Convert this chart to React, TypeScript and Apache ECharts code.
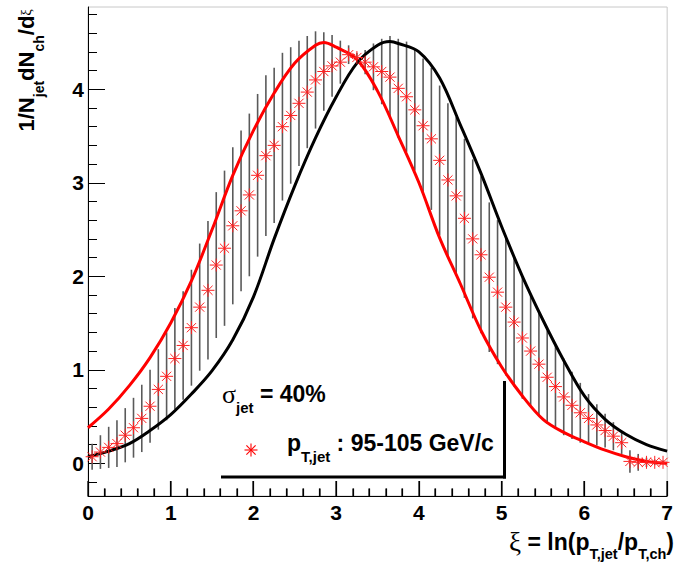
import React, { useEffect, useRef } from "react";
import * as echarts from "echarts";

// ---- axis ticks ----
const xTickValues = [0, 1, 2, 3, 4, 5, 6, 7];
const xMinorTicks = [0.2, 0.4, 0.6, 0.8, 1.2, 1.4, 1.6, 1.8, 2.2, 2.4, 2.6, 2.8, 3.2, 3.4, 3.6, 3.8, 4.2, 4.4, 4.6, 4.8, 5.2, 5.4, 5.6, 5.8, 6.2, 6.4, 6.6, 6.8];
const yMajorTicks = [0, 1, 2, 3, 4];
const yMinorTicks = [-0.2, 0.2, 0.4, 0.6, 0.8, 1.2, 1.4, 1.6, 1.8, 2.2, 2.4, 2.6, 2.8, 3.2, 3.4, 3.6, 3.8, 4.2, 4.4, 4.6, 4.8];
const Y_MIN = -0.35;
const Y_MAX = 4.88;

// ---- red curve ----
const redXi = [0, 0.25, 0.5, 0.75, 1, 1.25, 1.5, 1.75, 2, 2.25, 2.5, 2.75, 2.85, 3, 3.25, 3.5, 3.75, 4, 4.25, 4.5, 4.75, 5, 5.25, 5.5, 5.75, 6, 6.25, 6.5, 6.75, 7];
const redVal = [0.38, 0.58, 0.83, 1.13, 1.5, 1.95, 2.5, 3.08, 3.56, 3.96, 4.28, 4.47, 4.5, 4.45, 4.32, 3.98, 3.5, 3.0, 2.41, 1.92, 1.42, 1.03, 0.72, 0.47, 0.33, 0.23, 0.14, 0.07, 0.02, 0.0];

// ---- black curve ----
const blackXi = [0, 0.25, 0.5, 0.75, 1, 1.25, 1.5, 1.75, 2, 2.25, 2.5, 2.75, 3, 3.25, 3.5, 3.65, 3.75, 4, 4.25, 4.5, 4.75, 5, 5.25, 5.5, 5.75, 6, 6.25, 6.5, 6.75, 7];
const blackVal = [0.07, 0.13, 0.21, 0.35, 0.52, 0.74, 0.99, 1.32, 1.78, 2.4, 2.97, 3.48, 3.92, 4.28, 4.47, 4.51, 4.49, 4.4, 4.12, 3.62, 3.1, 2.53, 2.0, 1.53, 1.1, 0.72, 0.47, 0.31, 0.2, 0.13];

// ---- data points (pT,jet 95-105 GeV/c) ----
const pointXi = [0.05, 0.15, 0.25, 0.35, 0.45, 0.55, 0.65, 0.75, 0.85, 0.95, 1.05, 1.15, 1.25, 1.35, 1.45, 1.55, 1.65, 1.75, 1.85, 1.95, 2.05, 2.15, 2.25, 2.35, 2.45, 2.55, 2.65, 2.75, 2.85, 2.95, 3.05, 3.15, 3.25, 3.35, 3.45, 3.55, 3.65, 3.75, 3.85, 3.95, 4.05, 4.15, 4.25, 4.35, 4.45, 4.55, 4.65, 4.75, 4.85, 4.95, 5.05, 5.15, 5.25, 5.35, 5.45, 5.55, 5.65, 5.75, 5.85, 5.95, 6.05, 6.15, 6.25, 6.35, 6.45, 6.55, 6.65, 6.75, 6.85, 6.95];
const pointVal = [0.07, 0.12, 0.17, 0.21, 0.3, 0.38, 0.48, 0.61, 0.79, 0.93, 1.12, 1.26, 1.45, 1.67, 1.85, 2.12, 2.3, 2.54, 2.7, 2.87, 3.08, 3.29, 3.4, 3.6, 3.72, 3.85, 3.97, 4.1, 4.19, 4.25, 4.29, 4.37, 4.34, 4.29, 4.24, 4.19, 4.13, 4.01, 3.92, 3.78, 3.61, 3.47, 3.24, 3.03, 2.86, 2.62, 2.4, 2.23, 1.99, 1.83, 1.67, 1.51, 1.34, 1.2, 1.06, 0.92, 0.82, 0.71, 0.62, 0.54, 0.48, 0.41, 0.35, 0.29, 0.22, 0.02, 0.01, 0.01, 0.01, 0.01];
const pointErr = [0.14, 0.18, 0.22, 0.25, 0.29, 0.32, 0.36, 0.39, 0.43, 0.47, 0.54, 0.58, 0.62, 0.68, 0.74, 0.78, 0.83, 0.84, 0.86, 0.87, 0.87, 0.86, 0.83, 0.79, 0.73, 0.67, 0.6, 0.52, 0.42, 0.33, 0.23, 0.1, 0.05, 0.13, 0.25, 0.35, 0.44, 0.53, 0.59, 0.65, 0.72, 0.76, 0.8, 0.82, 0.84, 0.85, 0.85, 0.84, 0.8, 0.77, 0.73, 0.69, 0.65, 0.6, 0.55, 0.5, 0.45, 0.41, 0.36, 0.32, 0.26, 0.22, 0.18, 0.15, 0.12, 0.12, 0.09, 0.05, 0.03, 0.02];

const ASTERISK = "path://M0,-10L0,10M-10,0L10,0M-7.07,-7.07L7.07,7.07M-7.07,7.07L7.07,-7.07";

const SANS = "Liberation Sans, Arial, Helvetica, sans-serif";
const SERIF = "Liberation Serif, Times New Roman, serif";

export default function App() {
  const ref = useRef<HTMLDivElement>(null);

  useEffect(() => {
    if (!ref.current) return;
    const chart = echarts.init(ref.current, null, { renderer: "svg" });

    const axisLineStyle = { color: "#000", width: 1 };
    const labelStyle = { fontSize: 21, fontWeight: "bold" as const, color: "#000", fontFamily: SANS };

    const main = (size: number, lh: number) => ({ fontSize: size, fontWeight: "bold", fontFamily: SANS, fill: "#000", lineHeight: lh });
    const sub = (size: number) => ({ fontSize: size, fontWeight: "bold", fontFamily: SANS, fill: "#000", verticalAlign: "bottom" });

    const asteriskLines = (cx: number, cy: number, r: number) => {
      const d = r * 0.7071;
      const segs = [
        [0, -r, 0, r],
        [-r, 0, r, 0],
        [-d, -d, d, d],
        [-d, d, d, -d],
      ];
      return segs.map((s) => ({
        type: "line",
        shape: { x1: cx + s[0], y1: cy + s[1], x2: cx + s[2], y2: cy + s[3] },
        style: { stroke: "#ff0000", lineWidth: 1.1 },
      }));
    };

    // x-axis ticks: one polyline of tick strokes placed through the x scale
    const xTickData = [
      ...xTickValues.map((v) => [v, 15]),
      ...xMinorTicks.map((v) => [v, 7.5]),
    ];

    const option: any = {
      animation: false,
      backgroundColor: "#fff",
      grid: { left: 88, right: 3, top: 7, bottom: 67, show: true, borderColor: "#c8c8c8", borderWidth: 1, backgroundColor: "transparent" },
      xAxis: {
        type: "value",
        min: xTickValues[0],
        max: xTickValues[xTickValues.length - 1],
        interval: 1,
        position: "bottom",
        axisLine: { show: true, onZero: false, lineStyle: axisLineStyle },
        axisTick: { show: true, inside: true, length: 15, lineStyle: { color: "#000", width: 1.2 } },
        minorTick: { show: true, splitNumber: 5, length: 7.5, lineStyle: { color: "#000", width: 1.2 } },
        axisLabel: { ...labelStyle, margin: 6 },
        splitLine: { show: false },
      },
      yAxis: [
        {
          type: "value",
          min: Y_MIN,
          max: Y_MAX,
          position: "left",
          axisLine: { show: true, onZero: false, lineStyle: axisLineStyle },
          axisTick: { show: true, inside: true, length: 17, customValues: yMajorTicks, lineStyle: { color: "#000", width: 1 } },
          axisLabel: { ...labelStyle, margin: 4, customValues: yMajorTicks },
          splitLine: { show: false },
        },
        {
          type: "value",
          min: Y_MIN,
          max: Y_MAX,
          position: "left",
          axisLine: { show: false, onZero: false },
          axisTick: { show: true, inside: true, length: 9, customValues: yMinorTicks, lineStyle: { color: "#000", width: 1 } },
          axisLabel: { show: false },
          splitLine: { show: false },
        },
      ],
      series: [
        {
          type: "custom",
          name: "xticks",
          data: xTickData.map((d) => [d[0], Y_MIN, d[1]]),
          encode: { x: 0, y: 1 },
          clip: false,
          silent: true,
          z: 10,
          renderItem: (params: any, api: any) => {
            const v = api.value(0);
            const len = api.value(2);
            const p = api.coord([v, Y_MIN]);
            return {
              type: "rect",
              shape: { x: Math.round(p[0]) - 0.6, y: p[1] - len, width: 1.2, height: len },
              style: { fill: "#000" },
            };
          },
        },
        {
          type: "custom",
          name: "errors",
          data: pointXi.map((x, i) => [x, pointVal[i], pointErr[i]]),
          encode: { x: 0, y: 1 },
          z: 1,
          renderItem: (params: any, api: any) => {
            const x = api.value(0);
            const y = api.value(1);
            const e = api.value(2);
            const p1 = api.coord([x, y + e]);
            const p2 = api.coord([x, y - e]);
            return {
              type: "line",
              shape: { x1: p1[0], y1: p1[1], x2: p2[0], y2: p2[1] },
              style: { stroke: "#5a5a5a", lineWidth: 1.6 },
            };
          },
        },
        {
          type: "line",
          name: "red",
          data: redXi.map((x, i) => [x, redVal[i]]),
          smooth: 0.35,
          showSymbol: false,
          lineStyle: { color: "#ff0000", width: 3 },
          z: 2,
        },
        {
          type: "line",
          name: "black",
          data: blackXi.map((x, i) => [x, blackVal[i]]),
          smooth: 0.35,
          showSymbol: false,
          lineStyle: { color: "#000", width: 3 },
          z: 2,
        },
        {
          type: "scatter",
          name: "pT,jet : 95-105 GeV/c",
          data: pointXi.map((x, i) => [x, pointVal[i]]),
          symbol: ASTERISK,
          symbolSize: 13,
          itemStyle: { color: "rgba(255,0,0,0)", borderColor: "#ff2020", borderWidth: 1, opacity: 1 },
          z: 3,
        },
      ],
      graphic: [
        { type: "line", shape: { x1: 221, y1: 477, x2: 506, y2: 477 }, style: { stroke: "#000", lineWidth: 3 } },
        { type: "line", shape: { x1: 504.5, y1: 381, x2: 504.5, y2: 478.5 }, style: { stroke: "#000", lineWidth: 3 } },
        {
          type: "text",
          x: 222,
          y: 394,
          style: {
            text: "{g|σ}{s|jet}{b| = 40%}",
            align: "left",
            verticalAlign: "middle",
            rich: {
              g: { fontSize: 26, fontFamily: SERIF, fill: "#000", lineHeight: 42 },
              s: sub(15),
              b: main(23, 42),
            },
          },
        },
        ...asteriskLines(251, 450, 6.5),
        {
          type: "text",
          x: 287,
          y: 443,
          style: {
            text: "{b|p}{s|T,jet}{b| : 95-105 GeV/c}",
            align: "left",
            verticalAlign: "middle",
            rich: { b: main(23, 42), s: sub(15) },
          },
        },
        {
          type: "text",
          x: 674,
          y: 542,
          style: {
            text: "{g|ξ}{b| = ln(p}{s|T,jet}{b|/p}{s|T,ch}{b|)}",
            align: "right",
            verticalAlign: "middle",
            rich: {
              g: { fontSize: 27, fontFamily: SERIF, fill: "#000", lineHeight: 38 },
              b: main(23, 38),
              s: sub(14.5),
            },
          },
        },
        {
          type: "text",
          x: 26,
          y: 9,
          rotation: Math.PI / 2,
          style: {
            text: "{b|1/N}{s|jet}{b|dN}{s|ch}{b|/d}{x|ξ}",
            align: "right",
            verticalAlign: "middle",
            rich: {
              b: main(22, 40),
              s: sub(14),
              x: { fontSize: 15, fontFamily: SERIF, fill: "#000" },
            },
          },
        },
      ],
    };

    chart.setOption(option);
    return () => chart.dispose();
  }, []);

  return <div ref={ref} style={{ position: "fixed", left: 0, top: 0, width: 676, height: 563 }} />;
}
